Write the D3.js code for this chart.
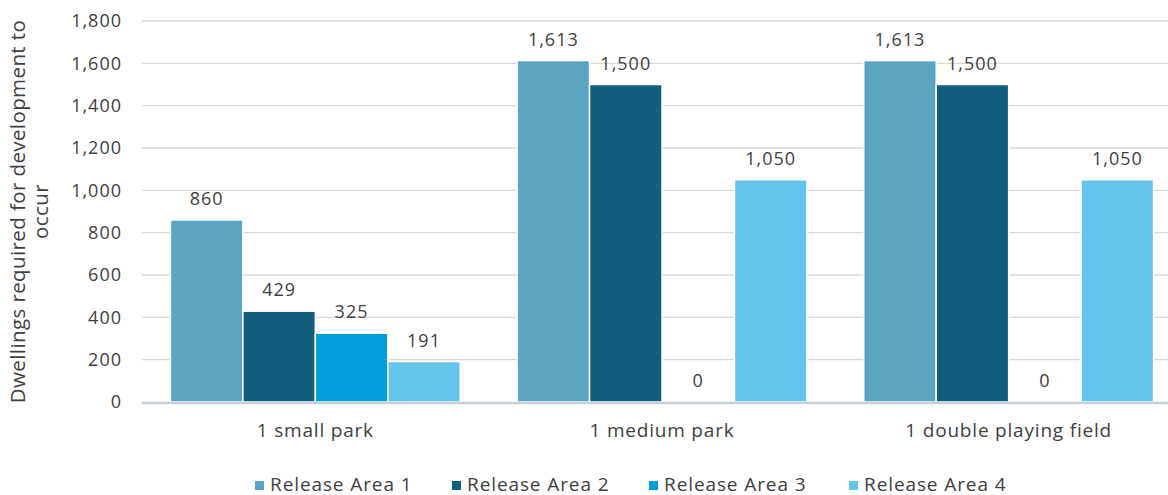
<!DOCTYPE html>
<html>
<head>
<meta charset="utf-8">
<script src="https://cdn.jsdelivr.net/npm/d3@7"></script>
<style>
  html, body { margin: 0; padding: 0; background: #fff; overflow: hidden; }
  text { font-family: "Open Sans", Lato, sans-serif; }
</style>
</head>
<body>
<div id="chart"></div>
<script>
const categories = ["1 small park", "1 medium park", "1 double playing field"];
const seriesNames = ["Release Area 1", "Release Area 2", "Release Area 3", "Release Area 4"];
const releaseArea1 = [860, 1613, 1613];
const releaseArea2 = [429, 1500, 1500];
const releaseArea3 = [325, 0, 0];
const releaseArea4 = [191, 1050, 1050];
const yTicks = [0, 200, 400, 600, 800, 1000, 1200, 1400, 1600, 1800];
const colors = ["#5ca5c2", "#115f7d", "#019fda", "#65c4ea"];

const width = 1168, height = 495;
const seriesValues = [releaseArea1, releaseArea2, releaseArea3, releaseArea4];

const svg = d3.select("#chart")
  .append("svg")
  .attr("width", width)
  .attr("height", height);

const x = d3.scaleBand()
  .domain(categories)
  .range([142, 1182])
  .paddingInner(0.164)
  .paddingOuter(0.082);

const x1 = d3.scaleBand()
  .domain(seriesNames)
  .range([0, x.bandwidth()]);

const y = d3.scaleLinear()
  .domain([0, 1800])
  .range([402, 21]);

// gridlines
svg.append("g")
  .selectAll("line")
  .data(yTicks.filter(d => d > 0))
  .join("line")
  .attr("x1", 142)
  .attr("x2", width)
  .attr("y1", d => y(d))
  .attr("y2", d => y(d))
  .attr("stroke", "#d9d9d9")
  .attr("stroke-width", 1.3);

// y tick labels
svg.append("g")
  .selectAll("text")
  .data(yTicks)
  .join("text")
  .attr("x", 122)
  .attr("y", d => y(d))
  .attr("dy", "0.35em")
  .attr("text-anchor", "end")
  .attr("font-size", 18)
  .attr("letter-spacing", 1)
  .attr("fill", "#404040")
  .text(d => d3.format(",")(d));

// bars
const rows = categories.map((c, i) => ({
  category: c,
  values: seriesNames.map((s, j) => ({ series: s, idx: j, value: seriesValues[j][i] }))
}));

const groups = svg.append("g")
  .selectAll("g")
  .data(rows)
  .join("g")
  .attr("transform", d => `translate(${x(d.category)},0)`);

groups.selectAll("rect")
  .data(d => d.values)
  .join("rect")
  .attr("x", d => x1(d.series))
  .attr("y", d => y(d.value))
  .attr("width", x1.bandwidth())
  .attr("height", d => y(0) - y(d.value))
  .attr("fill", d => colors[d.idx])
  .attr("stroke", "#fff")
  .attr("stroke-width", 1.5);

groups.selectAll("text")
  .data(d => d.values)
  .join("text")
  .attr("x", d => x1(d.series) + x1.bandwidth() / 2)
  .attr("y", d => y(d.value) - 15)
  .attr("text-anchor", "middle")
  .attr("font-size", 18)
  .attr("letter-spacing", 1)
  .attr("fill", "#404040")
  .text(d => d3.format(",")(d.value));

// x axis baseline
svg.append("line")
  .attr("x1", 142)
  .attr("x2", width)
  .attr("y1", y(0) + 1)
  .attr("y2", y(0) + 1)
  .attr("stroke", "#c8d0d8")
  .attr("stroke-width", 2.5);

// category labels
svg.append("g")
  .selectAll("text")
  .data(categories)
  .join("text")
  .attr("x", d => x(d) + x.bandwidth() / 2)
  .attr("y", 437)
  .attr("text-anchor", "middle")
  .attr("font-size", 19)
  .attr("letter-spacing", 0.8)
  .attr("fill", "#404040")
  .text(d => d);

// y axis title
const title = svg.append("text")
  .attr("transform", `translate(18, ${(y(0) + y(1800)) / 2}) rotate(-90)`)
  .attr("text-anchor", "middle")
  .attr("font-size", 20.5)
  .attr("letter-spacing", 0.4)
  .attr("fill", "#404040");
title.append("tspan").attr("x", 0).attr("dy", "0.35em").text("Dwellings required for development to");
title.append("tspan").attr("x", 0).attr("dy", "1.1em").text("occur");

// legend
const legendX = [255, 452, 649, 849];
const legend = svg.append("g")
  .selectAll("g")
  .data(seriesNames)
  .join("g")
  .attr("transform", (d, i) => `translate(${legendX[i]}, 481)`);

legend.append("rect")
  .attr("width", 9)
  .attr("height", 9)
  .attr("fill", (d, i) => colors[i]);

legend.append("text")
  .attr("x", 15)
  .attr("y", 9.5)
  .attr("font-size", 19)
  .attr("letter-spacing", 0.9)
  .attr("fill", "#404040")
  .text(d => d);
</script>
</body>
</html>
